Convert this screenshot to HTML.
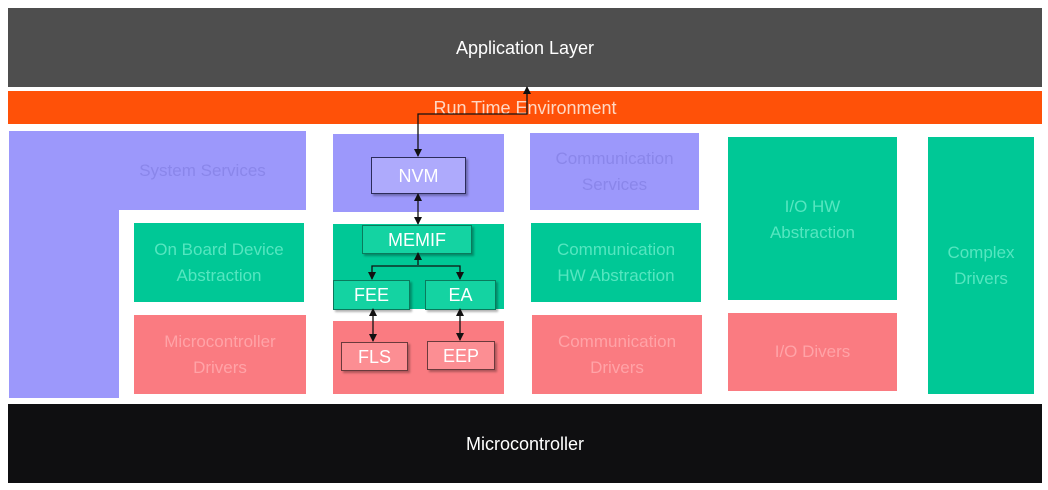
<!DOCTYPE html>
<html><head><meta charset="utf-8"><style>
body{margin:0;width:1048px;height:490px;background:#fff;position:relative;overflow:hidden;font-family:"Liberation Sans","DejaVu Sans",sans-serif}
.b{position:absolute;display:flex;align-items:center;justify-content:center;text-align:center;line-height:26px;font-size:17px}
.p{background:#9c98fb;color:#8a86ea}
.g{background:#00c896;color:#55e6c0}
.r{background:#fa7b81;color:#ffa3a7}
.ib{border:1px solid #2c2c5a;box-shadow:2px 2px 2px rgba(0,0,0,.3);color:#fff;font-size:18px}
</style></head><body>
<div class="b" style="left:8px;top:8px;width:1034px;height:79px;background:#4e4e4e;color:#fff;font-size:18px">Application Layer</div>
<div class="b" style="left:8px;top:91px;width:1034px;height:33px;background:#ff5108;color:#ffd8c4;font-size:18px">Run Time Environment</div>
<div class="b p" style="left:9px;top:131px;width:297px;height:79px"><span style="margin-left:90px">System Services</span></div>
<div class="p" style="position:absolute;left:9px;top:131px;width:110px;height:267px"></div>
<div class="b g" style="left:134px;top:223px;width:170px;height:79px">On Board Device<br>Abstraction</div>
<div class="b r" style="left:134px;top:315px;width:172px;height:79px">Microcontroller<br>Drivers</div>
<div class="p" style="position:absolute;left:333px;top:134px;width:171px;height:78px"></div>
<div class="g" style="position:absolute;left:333px;top:224px;width:171px;height:85px"></div>
<div class="r" style="position:absolute;left:333px;top:321px;width:171px;height:73px"></div>
<div class="b ib" style="left:371px;top:157px;width:93px;height:35px;background:#aeaafc">NVM</div>
<div class="b ib" style="left:362px;top:225px;width:108px;height:27px;background:#14d3a2;border-color:#0a7a5c">MEMIF</div>
<div class="b ib" style="left:333px;top:280px;width:75px;height:28px;background:#14d3a2;border-color:#0a7a5c">FEE</div>
<div class="b ib" style="left:425px;top:280px;width:69px;height:28px;background:#14d3a2;border-color:#0a7a5c">EA</div>
<div class="b ib" style="left:341px;top:342px;width:65px;height:27px;background:#fc8e93;border-color:#6a3a3c">FLS</div>
<div class="b ib" style="left:427px;top:341px;width:66px;height:27px;background:#fc8e93;border-color:#6a3a3c">EEP</div>
<div class="b p" style="left:530px;top:133px;width:169px;height:77px">Communication<br>Services</div>
<div class="b g" style="left:531px;top:223px;width:170px;height:79px">Communication<br>HW Abstraction</div>
<div class="b r" style="left:532px;top:315px;width:170px;height:79px">Communication<br>Drivers</div>
<div class="b g" style="left:728px;top:137px;width:169px;height:163px;align-items:flex-start;padding-top:57px;box-sizing:border-box">I/O HW<br>Abstraction</div>
<div class="b r" style="left:728px;top:313px;width:169px;height:78px">I/O Divers</div>
<div class="b g" style="left:928px;top:137px;width:106px;height:257px">Complex<br>Drivers</div>
<div class="b" style="left:8px;top:404px;width:1034px;height:79px;background:#0f0f11;color:#fff;font-size:18px">Microcontroller</div>
<svg width="1048" height="490" style="position:absolute;left:0;top:0">
<defs><marker id="a" markerWidth="8" markerHeight="8" refX="7" refY="4" orient="auto-start-reverse" markerUnits="userSpaceOnUse"><path d="M0,0L8,4L0,8z" fill="#111"/></marker></defs>
<g stroke="#111" stroke-width="1.3" fill="none">
<path d="M418,156 V114 H527 V87" marker-start="url(#a)" marker-end="url(#a)"/>
<path d="M418,194 V224" marker-start="url(#a)" marker-end="url(#a)"/>
<path d="M418,253 V265"  marker-start="url(#a)"/>
<path d="M372,279 V266 H460 V279" marker-start="url(#a)" marker-end="url(#a)"/>
<path d="M373,309 V341" marker-start="url(#a)" marker-end="url(#a)"/>
<path d="M460,309 V340" marker-start="url(#a)" marker-end="url(#a)"/>
</g></svg>
</body></html>
